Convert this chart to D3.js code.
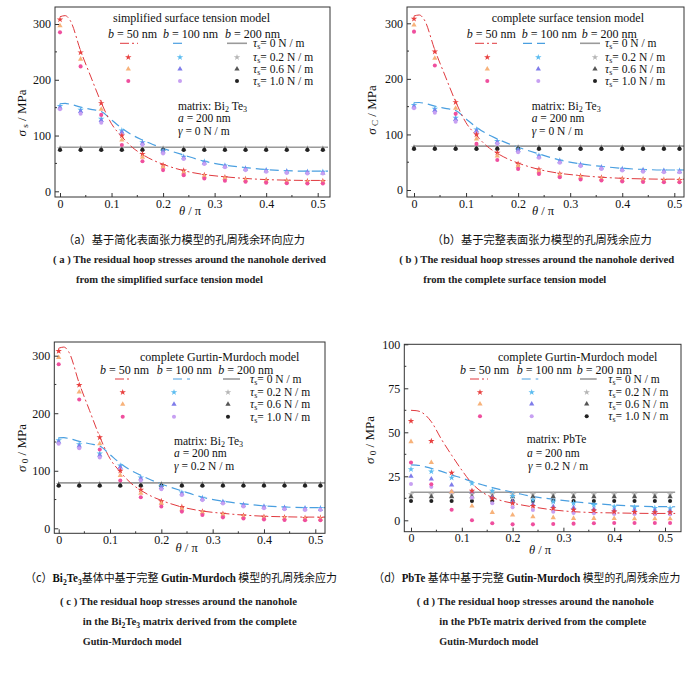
<!DOCTYPE html>
<html><head><meta charset="utf-8">
<script src="https://cdn.jsdelivr.net/npm/d3@7"></script>
<style>body{margin:0;background:#fff} svg{display:block}</style>
</head><body>
<svg id="fig" width="700" height="696"></svg>
<script>
// ---------------- DATA ----------------
const thetaPts   = [0,0.04,0.08,0.12,0.16,0.20,0.24,0.28,0.32,0.36,0.40,0.44,0.48,0.51];
const thetaCurve = [0,0.01,0.02,0.04,0.06,0.08,0.10,0.12,0.14,0.16,0.18,0.20,0.24,0.28,0.32,0.36,0.40,0.44,0.48,0.52];
const thetaFlat  = [0,0.52];
const xTicks = [0,0.1,0.2,0.3,0.4,0.5];
const xTickLabels = ["0","0.1","0.2","0.3","0.4","0.5"];
const yTicksBi = [0,100,200,300];
const yTickLabelsBi = ["0","100","200","300"];
const yTicksPb = [0,25,50,75,100];
const yTickLabelsPb = ["0","25","50","75","100"];

// Bi2Te3 matrix (panels a, b, c)
const biLine50  = [313,315,306,252,205,159,121,98,79,66,56,48.5,37,30,26,23,21,20,19.5,19.5];
const biLine100 = [157,157.5,156,151,147,143,128,113,101,92,84,77,65,54,47,42.5,39,37,36,36];
const biLine200 = [79,79];
const biB50T02  = [308,249,158,100,67,47,37,29,25,22,20,19,18,18];
const biB50T06  = [297,237,147,92,61,43,33,27,23,20,18,17,16,16];
const biB50T10  = [285,224,137,83,54,38,29,23,19,17,15.5,14.5,14,14];
const biB100T02 = [153,146,130,109,88,73,62,53,46,41,38,36,35,35];
const biB100T06 = [150,143,127,106,86,71,60,51,45,40,37,35,34,33];
const biB100T10 = [147,139,123,102,83,68,58,49,43,38,35,33,32,32];
const biB200T02 = [77,77,77,77,77,77,77,77,77,77,77,77,77,77];
const biB200T06 = [75.5,75.5,75.5,75.5,75.5,75.5,75.5,75.5,75.5,75.5,75.5,75.5,75.5,75.5];
const biB200T10 = [74,74,74,74,74,74,74,74,74,74,74,74,74,74];

// PbTe matrix (panel d)
const pbLine50  = [62.5,62.3,61.5,56,46,37,28.5,21,16,13,11,9.7,7.6,5.9,4.9,4.4,4.2,4.0,3.9,3.9];
const pbLine100 = [31.5,31.4,31,29.5,27.8,25.8,24,22,20.2,18.6,17.2,16,13.4,12,10.6,9.5,8.7,8.1,7.8,7.7];
const pbLine200 = [15.9,15.9];
const pbB50T02  = [56.4,45,27,16.7,12.5,9.7,8.1,6.8,5.9,5.5,4.9,4.7,4.5,4.5];
const pbB50T06  = [44.7,32.8,16.3,8.1,4.5,3,2,1.5,1.1,1.1,1,0.9,0.9,0.9];
const pbB50T10  = [32.8,20.5,6,0,-1.7,-2.3,-2.3,-2.1,-1.9,-1.7,-1.5,-1.5,-1.5,-1.5];
const pbB100T02 = [29,27.7,24.2,21,16.7,13.8,11.7,10.6,9.7,8.7,7.8,7.4,7,6.8];
const pbB100T06 = [25,23.5,20,16.3,13,10.6,9,7.8,7.2,6.4,5.9,5.7,5.5,5.3];
const pbB100T10 = [20.6,19,16.3,12.9,9.7,7.4,5.9,4.9,4.2,4,3.6,3.6,3.4,3.4];
const pbB200T02 = [14.8,14.8,14.8,14.8,14.8,14.8,14.8,14.8,14.8,14.8,14.8,14.8,14.8,14.8];
const pbB200T06 = [13.4,13.4,13.4,13.4,13.4,13.4,13.4,13.4,13.4,13.4,13.4,13.4,13.4,13.4];
const pbB200T10 = [11,11,11,11,11,11,11,11,11,11,11,11,11,11];

const legendTau = ["0","0.2","0.6","1.0"];
const legendB = ["50","100","200"];

// ---------------- STYLE ----------------
const SERIF = "'Liberation Serif','Times New Roman',serif";
const CJK = "'Noto Sans CJK SC',sans-serif";
const col = {
  l50:"#e0393e", l100:"#4a9fe0", l200:"#9a9a9a",
  p50:["#e8403f","#f7b27a","#ef4f9e"],
  p100:["#5bbcf0","#7f7cea","#c7a0f2"],
  p200:["#b5b5b5","#555555","#222222"]
};
const dash50 = "9,3,2,3", dash100 = "9,5";
const shapes = [d3.symbolStar, d3.symbolTriangle, d3.symbolCircle];
const shapeSize = [13,12,13];

const svg = d3.select("#fig");

function rich(g, x, y, parts, size, anchor) {
  const s = size || 11.5;
  const t = g.append("text").attr("x", x).attr("y", y)
    .attr("font-family", SERIF).attr("font-size", s)
    .attr("fill", "#111").attr("text-anchor", anchor || "start");
  let sub = false;
  parts.forEach(p => {
    const o = typeof p === "string" ? {t:p} : p;
    const ts = t.append("tspan").text(o.t);
    if (o.i) ts.attr("font-style", "italic");
    if (o.sub) { ts.attr("font-size", s*0.7); if (!sub) { ts.attr("dy", 2); sub = true; } }
    else if (sub) { ts.attr("dy", -2); sub = false; }
  });
  return t;
}

function panel(cfg) {
  const g = svg.append("g");
  const [bl, bt, br, bb] = cfg.box;
  const x = d3.scaleLinear().domain([0, 0.5]).range(cfg.xr);
  const y = d3.scaleLinear().domain([0, cfg.yv]).range(cfg.yr);

  const clipId = "clip" + cfg.id;
  g.append("clipPath").attr("id", clipId).append("rect")
    .attr("x", bl).attr("y", bt).attr("width", br - bl).attr("height", bb - bt);
  const plot = g.append("g").attr("clip-path", `url(#${clipId})`);

  // axes (inward ticks)
  const xa = d3.axisBottom(x).tickValues(xTicks).tickFormat((d,i) => xTickLabels[i]).tickSize(-4).tickPadding(2);
  const xg = g.append("g").attr("transform", `translate(0,${bb})`).call(xa);
  const ya = d3.axisLeft(y).tickValues(cfg.yTicks).tickFormat((d,i) => cfg.yLabels[i]).tickSize(-4).tickPadding(4);
  const yg = g.append("g").attr("transform", `translate(${bl},0)`).call(ya);
  [xg, yg].forEach(a => {
    a.select(".domain").remove();
    a.selectAll("line").attr("stroke", "#333");
    a.selectAll("text").attr("font-family", SERIF).attr("font-size", 12).attr("fill", "#111");
  });
  // minor ticks
  const xm = xTicks.slice(0, -1).map((v, i) => (v + xTicks[i+1]) / 2);
  g.selectAll(null).data(xm).join("line")
    .attr("x1", d => x(d)).attr("x2", d => x(d)).attr("y1", bb).attr("y2", bb - 2)
    .attr("stroke", "#333");
  const ym = cfg.yTicks.slice(0, -1).map((v, i) => (v + cfg.yTicks[i+1]) / 2);
  g.selectAll(null).data(ym).join("line")
    .attr("y1", d => y(d)).attr("y2", d => y(d)).attr("x1", bl).attr("x2", bl + 2)
    .attr("stroke", "#333");

  // lines
  const lineGen = d3.line().x(d => x(d[0])).y(d => y(d[1])).curve(d3.curveMonotoneX);
  plot.append("path").datum(thetaFlat.map((t, i) => [t, cfg.l200[i]]))
    .attr("d", lineGen).attr("fill", "none").attr("stroke", col.l200).attr("stroke-width", 1.6);
  plot.append("path").datum(thetaCurve.map((t, i) => [t, cfg.l100[i]]))
    .attr("d", lineGen).attr("fill", "none").attr("stroke", col.l100).attr("stroke-width", 1.2)
    .attr("stroke-dasharray", dash100);
  plot.append("path").datum(thetaCurve.map((t, i) => [t, cfg.l50[i]]))
    .attr("d", lineGen).attr("fill", "none").attr("stroke", col.l50).attr("stroke-width", 1)
    .attr("stroke-dasharray", dash50);

  // points
  const groups = [[cfg.p200, col.p200], [cfg.p100, col.p100], [cfg.p50, col.p50]];
  groups.forEach(([sets, colors]) => {
    sets.forEach((vals, k) => {
      plot.selectAll(null).data(vals.map((v, i) => [thetaPts[i], v])).join("path")
        .attr("d", d3.symbol().type(shapes[k]).size(shapeSize[k]))
        .attr("transform", d => `translate(${x(d[0])},${y(d[1])})`)
        .attr("fill", colors[k]);
    });
  });

  // frame
  g.append("rect").attr("x", bl).attr("y", bt).attr("width", br - bl).attr("height", bb - bt)
    .attr("fill", "none").attr("stroke", "#333").attr("stroke-width", 1);

  // axis titles
  rich(g, cfg.xl[0], cfg.xl[1], [{t:"θ", i:true}, " / π"], 12.5, "middle");
  rich(g, 0, 0, [{t:"σ", i:true}, {t:" " + cfg.sigSub, sub:true}, " / MPa"], 13, "middle")
    .attr("transform", `translate(${cfg.yl[0]},${cfg.yl[1]}) rotate(-90)`);

  // title and legend
  rich(g, cfg.title[1], cfg.title[2], [cfg.title[0]], 12);
  legendB.forEach((b, i) => rich(g, cfg.hx[i], cfg.hy, [{t:"b", i:true}, " = " + b + " nm"], 12));
  const rows = cfg.rows;
  const [r50, r100, r200] = cfg.ls;
  g.append("line").attr("x1", r50[0]).attr("x2", r50[1]).attr("y1", rows[0]).attr("y2", rows[0])
    .attr("stroke", col.l50).attr("stroke-width", 1).attr("stroke-dasharray", dash50);
  g.append("line").attr("x1", r100[0]).attr("x2", r100[1]).attr("y1", rows[0]).attr("y2", rows[0])
    .attr("stroke", col.l100).attr("stroke-width", 1.2).attr("stroke-dasharray", dash100);
  g.append("line").attr("x1", r200[0]).attr("x2", r200[1]).attr("y1", rows[0]).attr("y2", rows[0])
    .attr("stroke", col.l200).attr("stroke-width", 1.6);
  [col.p50, col.p100, col.p200].forEach((cs, j) => {
    cs.forEach((c, k) => {
      g.append("path").attr("d", d3.symbol().type(shapes[k]).size(shapeSize[k]))
        .attr("transform", `translate(${cfg.mx[j]},${rows[k+1]})`).attr("fill", c);
    });
  });
  legendTau.forEach((v, k) => {
    rich(g, cfg.tx, rows[k] + 4, [{t:"τ", i:true}, {t:"s", sub:true}, "= " + v + " N / m"], 11.5);
  });

  // annotation
  cfg.ann.forEach(a => rich(g, a[0], a[1], a[2], 11.5));
}

const bi = {
  l50: biLine50, l100: biLine100, l200: biLine200,
  p50: [biB50T02, biB50T06, biB50T10],
  p100: [biB100T02, biB100T06, biB100T10],
  p200: [biB200T02, biB200T06, biB200T10]
};
const pb = {
  l50: pbLine50, l100: pbLine100, l200: pbLine200,
  p50: [pbB50T02, pbB50T06, pbB50T10],
  p100: [pbB100T02, pbB100T06, pbB100T10],
  p200: [pbB200T02, pbB200T06, pbB200T10]
};
const matBi = [{t:"matrix: Bi"}, {t:"2", sub:true}, {t:" Te"}, {t:"3", sub:true}];

panel(Object.assign({
  id:"a", box:[55,7,330,197], xr:[60,317.7], yr:[191.3,24], yv:300,
  yTicks:yTicksBi, yLabels:yTickLabelsBi, sigSub:"s",
  xl:[190,214.5], yl:[26,113],
  title:["simplified  surface tension model",113,22],
  hx:[108,163,225], hy:37.5, rows:[43.3,57.3,69,81],
  ls:[[120,138],[173,187],[227,247]], mx:[128.3,180,237], tx:253,
  ann:[[178,110,matBi],[178,122,[{t:"a",i:true}," = 200 nm"]],[178,135,[{t:"γ",i:true}," = 0 N / m"]]]
}, bi));

panel(Object.assign({
  id:"b", box:[407,7,684,197], xr:[414,674.3], yr:[190,23.3], yv:300,
  yTicks:yTicksBi, yLabels:yTickLabelsBi, sigSub:"C",
  xl:[543,214.5], yl:[376,110],
  title:["complete  surface tension model",491.7,22],
  hx:[466.7,521.7,581.7], hy:37.5, rows:[43.3,57.3,69,81],
  ls:[[475,497],[523,545],[580,600]], mx:[487.3,538.3,595], tx:605,
  ann:[[531.7,110,matBi],[531.7,122.3,[{t:"a",i:true}," = 200 nm"]],[531.7,134.7,[{t:"γ",i:true}," = 0 N / m"]]]
}, bi));

panel(Object.assign({
  id:"c", box:[54.3,342,325,533.3], xr:[58.7,315.3], yr:[528.3,355.7], yv:300,
  yTicks:yTicksBi, yLabels:yTickLabelsBi, sigSub:"0",
  xl:[186.7,551.5], yl:[26,448],
  title:["complete Gurtin-Murdoch model",140,360.7],
  hx:[100,156.7,218.3], hy:373.5, rows:[379,392.3,404.3,416.7],
  ls:[[115,131.7],[173,190],[223,240]], mx:[122.7,174,228], tx:250,
  ann:[[174,445,matBi],[174,457.3,[{t:"a",i:true}," = 200 nm"]],[174,469.7,[{t:"γ",i:true}," = 0.2 N / m"]]]
}, bi));

panel(Object.assign({
  id:"d", box:[404.3,344.3,681,531.7], xr:[411,665], yr:[520.3,344.3], yv:100,
  yTicks:yTicksPb, yLabels:yTickLabelsPb, sigSub:"0",
  xl:[540,553.5], yl:[374,440],
  title:["complete Gurtin-Murdoch model",498,360.7],
  hx:[460,516.7,576.7], hy:373.8, rows:[379,392.3,404,416.3],
  ls:[[470,488],[521.7,538.3],[580,596.7]], mx:[480,531.7,586.7], tx:608.3,
  ann:[[526.7,443.3,[{t:"matrix: PbTe"}]],[527,457.3,[{t:"a",i:true}," = 200 nm"]],[528,469.7,[{t:"γ",i:true}," = 0.2 N / m"]]]
}, pb));

// ---------------- CAPTIONS ----------------
function capCJK(x, y, w, parts) {
  const t = svg.append("text").attr("x", x).attr("y", y).attr("font-size", 11.5)
    .attr("fill", "#111").attr("textLength", w).attr("lengthAdjust", "spacingAndGlyphs");
  let sub = false;
  parts.forEach(p => {
    const o = typeof p === "string" ? {t:p} : p;
    const ts = t.append("tspan").text(o.t).attr("font-family", o.latin ? SERIF : CJK);
    if (o.latin) ts.attr("font-weight", "bold");
    if (o.sub) { ts.attr("font-size", 8); if (!sub) { ts.attr("dy", 2.5); sub = true; } }
    else if (sub) { ts.attr("dy", -2.5); sub = false; }
  });
}
function capEN(x, y, w, parts) {
  const t = svg.append("text").attr("x", x).attr("y", y).attr("font-size", 10.5)
    .attr("font-family", SERIF).attr("font-weight", "bold").attr("fill", "#222")
    .attr("textLength", w).attr("lengthAdjust", "spacingAndGlyphs");
  let sub = false;
  parts.forEach(p => {
    const o = typeof p === "string" ? {t:p} : p;
    const ts = t.append("tspan").text(o.t);
    if (o.sub) { ts.attr("font-size", 7.5); if (!sub) { ts.attr("dy", 2.5); sub = true; } }
    else if (sub) { ts.attr("dy", -2.5); sub = false; }
  });
}

capCJK(63, 244, 242, ["（a）基于简化表面张力模型的孔周残余环向应力"]);
capEN(53, 262.5, 273, ["( a ) The residual hoop stresses around the nanohole derived"]);
capEN(76, 282.5, 187, ["from the simplified surface tension model"]);

capCJK(431.7, 244, 220, ["（b）基于完整表面张力模型的孔周残余应力"]);
capEN(399.3, 262.5, 275, ["( b ) The residual hoop stresses around the nanohole derived"]);
capEN(423.3, 282.5, 183, ["from the complete surface tension model"]);

capCJK(25, 582, 312, ["（c）", {t:"Bi", latin:true}, {t:"2", latin:true, sub:true}, {t:"Te", latin:true}, {t:"3", latin:true, sub:true}, "基体中基于完整 ", {t:"Gutin-Murdoch", latin:true}, " 模型的孔周残余应力"]);
capEN(60, 605, 237, ["( c ) The residual hoop stresses around the nanohole"]);
capEN(82.7, 625, 214, ["in the Bi", {t:"2", sub:true}, "Te", {t:"3", sub:true}, " matrix derived from the complete"]);
capEN(82.7, 645, 99, ["Gutin-Murdoch model"]);

capCJK(373.3, 582, 307, ["（d）", {t:"PbTe", latin:true}, " 基体中基于完整 ", {t:"Gutin-Murdoch", latin:true}, " 模型的孔周残余应力"]);
capEN(416.7, 605, 237, ["( d ) The residual hoop stresses around the nanohole"]);
capEN(439.3, 625, 207, ["in the PbTe matrix derived from the complete"]);
capEN(439.3, 645, 99, ["Gutin-Murdoch model"]);
</script>
</body></html>
